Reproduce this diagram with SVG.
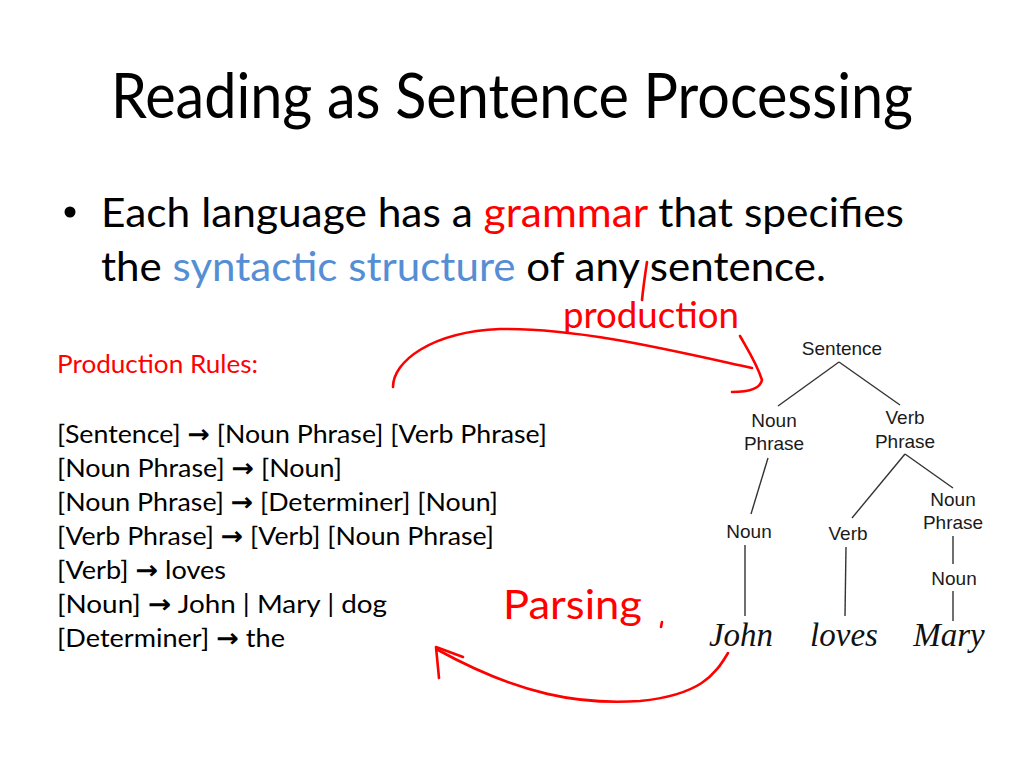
<svg xmlns="http://www.w3.org/2000/svg" width="1024" height="768" viewBox="0 0 1024 768">
<style>
.slide{font-family:Lato,"Open Sans","Liberation Sans",sans-serif;fill:#000}
.rule{font-family:Lato,"Open Sans","Liberation Sans",sans-serif;font-size:25.6px;fill:#000}
.arr{font-family:"DejaVu Sans",sans-serif;font-weight:bold}
.node{font-family:"Liberation Sans",Arial,sans-serif;font-size:19px;fill:#1a1a1a;text-anchor:middle}
.word{font-family:"Liberation Serif","Times New Roman",serif;font-style:italic;font-size:33px;fill:#111;text-anchor:middle}
.edge{stroke:#333;stroke-width:1.4;fill:none}
.ink{stroke:#f00;stroke-width:2.6;fill:none;stroke-linecap:round;stroke-linejoin:round}
.hand{font-family:Lato,"Open Sans",sans-serif;font-weight:400;fill:#f00}
</style>
<rect width="1024" height="768" fill="#fff"/>

<g id="title">
<text class="slide" x="111" y="118" font-size="62" textLength="802" lengthAdjust="spacingAndGlyphs">Reading as Sentence Processing</text>
</g>

<g id="bullet">
<circle cx="70" cy="212" r="5.5" fill="#000"/>
<text class="slide" x="101" y="227" font-size="40" textLength="803" lengthAdjust="spacingAndGlyphs">Each language has a <tspan fill="#f00">grammar</tspan> that specifies</text>
<text class="slide" x="101" y="281" font-size="40" textLength="725" lengthAdjust="spacingAndGlyphs">the <tspan fill="#558ed5">syntactic structure</tspan> of any sentence.</text>
</g>

<g id="rules">
<text class="rule" x="57" y="373" style="fill:#f00" textLength="201" lengthAdjust="spacingAndGlyphs">Production Rules:</text>
<text class="rule" x="57" y="443" textLength="490" lengthAdjust="spacingAndGlyphs">[Sentence] <tspan class="arr">→</tspan> [Noun Phrase] [Verb Phrase]</text>
<text class="rule" x="57" y="477" textLength="285" lengthAdjust="spacingAndGlyphs">[Noun Phrase] <tspan class="arr">→</tspan> [Noun]</text>
<text class="rule" x="57" y="511" textLength="441" lengthAdjust="spacingAndGlyphs">[Noun Phrase] <tspan class="arr">→</tspan> [Determiner] [Noun]</text>
<text class="rule" x="57" y="545" textLength="437" lengthAdjust="spacingAndGlyphs">[Verb Phrase] <tspan class="arr">→</tspan> [Verb] [Noun Phrase]</text>
<text class="rule" x="57" y="579" textLength="169" lengthAdjust="spacingAndGlyphs">[Verb] <tspan class="arr">→</tspan> loves</text>
<text class="rule" x="57" y="613" textLength="330" lengthAdjust="spacingAndGlyphs">[Noun] <tspan class="arr">→</tspan> John | Mary | dog</text>
<text class="rule" x="57" y="647" textLength="228" lengthAdjust="spacingAndGlyphs">[Determiner] <tspan class="arr">→</tspan> the</text>
</g>

<g id="connectors">
<line class="edge" x1="839" y1="362" x2="778" y2="406"/>
<line class="edge" x1="839" y1="362" x2="900" y2="405"/>
<line class="edge" x1="768" y1="458" x2="751" y2="514"/>
<line class="edge" x1="905" y1="454" x2="852" y2="518"/>
<line class="edge" x1="905" y1="454" x2="953" y2="488"/>
<line class="edge" x1="953" y1="536" x2="953" y2="564"/>
<line class="edge" x1="953" y1="591" x2="953" y2="621"/>
<line class="edge" x1="745" y1="545" x2="745" y2="616"/>
<line class="edge" x1="846" y1="547" x2="845" y2="616"/>
</g>

<g id="n-sentence"><text class="node" x="842" y="355">Sentence</text></g>
<g id="n-np1"><text class="node" x="774" y="427">Noun</text><text class="node" x="774" y="450">Phrase</text></g>
<g id="n-vp"><text class="node" x="905" y="424">Verb</text><text class="node" x="905" y="448">Phrase</text></g>
<g id="n-noun1"><text class="node" x="749" y="538">Noun</text></g>
<g id="n-verb"><text class="node" x="848" y="540">Verb</text></g>
<g id="n-np2"><text class="node" x="953" y="506">Noun</text><text class="node" x="953" y="529">Phrase</text></g>
<g id="n-noun2"><text class="node" x="954" y="585">Noun</text></g>
<g id="w-john"><text class="word" x="741" y="646">John</text></g>
<g id="w-loves"><text class="word" x="844" y="646">loves</text></g>
<g id="w-mary"><text class="word" x="949" y="646">Mary</text></g>

<g id="annotations">
<path class="ink" d="M393,387 C393,362 430,332 500,329 C580,328 670,350 752,368"/>
<path class="ink" d="M740,336 C748,350 757,364 762,380 C760,390 746,392 732,392"/>
<path class="ink" d="M647,262 C645,275 643,290 642,300"/>
<text class="hand" x="563" y="328" font-size="36" textLength="176" lengthAdjust="spacingAndGlyphs">production</text>
<path class="ink" d="M728,653 C715,675 700,695 640,701 C580,705 520,695 438,650"/>
<path class="ink" d="M463,657 L436,647 L439,678"/>
<text class="hand" x="503" y="619" font-size="40" textLength="139" lengthAdjust="spacingAndGlyphs">Parsing</text>
<path class="ink" d="M662,622 L661,627" stroke-width="2"/>
</g>
</svg>
